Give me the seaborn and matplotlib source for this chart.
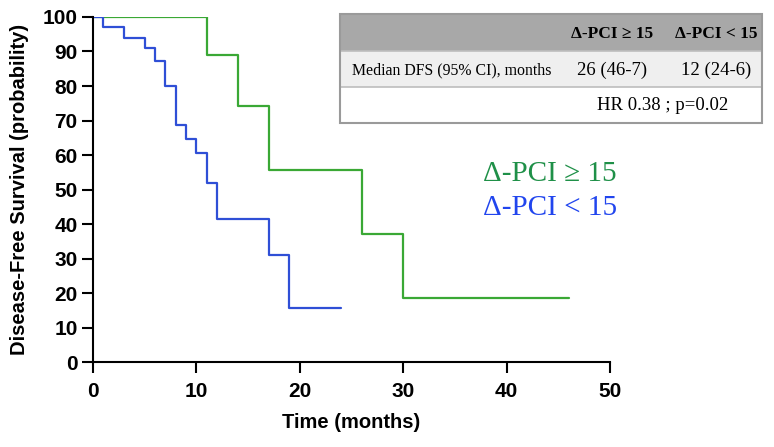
import numpy as np
import pandas as pd
import matplotlib
matplotlib.use("Agg")
import matplotlib.pyplot as plt
import seaborn as sns

# Kaplan-Meier step points (time in months, survival %)
hi_time = [0, 11, 14, 17, 26, 30, 46]
hi_surv = [100, 88.9, 74.1, 55.6, 37.0, 18.5, 18.5]
lo_time = [0, 1, 3, 5, 6, 7, 8, 9, 10, 11, 12, 17, 19, 24]
lo_surv = [100, 97.0, 94.0, 90.9, 87.2, 80.0, 68.6, 64.6, 60.5, 51.9, 41.5, 31.1, 15.6, 15.6]

groups = ["Δ-PCI ≥ 15", "Δ-PCI < 15"]
line_colors = ["#3aa835", "#2f4fd6"]
text_colors = ["#1f9048", "#2145ee"]

table_header = ["", "Δ-PCI ≥ 15", "Δ-PCI < 15"]
table_row = ["Median DFS (95% CI), months", "26 (46-7)", "12 (24-6)"]
table_footer = "HR 0.38 ; p=0.02"

df = pd.concat([
    pd.DataFrame({"time": hi_time, "surv": hi_surv, "group": groups[0]}),
    pd.DataFrame({"time": lo_time, "surv": lo_surv, "group": groups[1]}),
])

sns.set_theme(style="ticks")
plt.rcParams.update({
    "font.family": ["Liberation Sans", "DejaVu Sans"],
    "xtick.color": "black", "ytick.color": "black",
    "axes.labelcolor": "black", "text.color": "black",
})

fig = plt.figure(figsize=(7.74, 4.47), dpi=100)
ax = fig.add_axes([0.120, 0.190, 0.668, 0.772])
ax.set_axisbelow(False)

sns.lineplot(data=df, x="time", y="surv", hue="group", palette=line_colors,
             drawstyle="steps-post", linewidth=1.6, legend=False, ax=ax,
             estimator=None, sort=False)

ax.set_xlim(0, 50)
ax.set_ylim(0, 100)
ax.set_xticks(np.arange(0, 51, 10))
ax.set_yticks(np.arange(0, 101, 10))
ax.spines["top"].set_visible(False)
ax.spines["right"].set_visible(False)
for s in ["left", "bottom"]:
    ax.spines[s].set_linewidth(1.5)
    ax.spines[s].set_color("black")
ax.tick_params(axis="both", labelsize=15, pad=5)
ax.tick_params(axis="x", pad=8)
# ticks have to be switched on one by one, the theme hides them otherwise
for t in ax.xaxis.get_major_ticks() + ax.yaxis.get_major_ticks():
    t.tick1line.set_visible(True)
    t.tick1line.set_markersize(8)
    t.tick1line.set_markeredgewidth(1.5)
    t.tick1line.set_color("black")
    t.tick1line.set_markeredgecolor("black")
    t.tick1line.set_zorder(5)
for lab in ax.get_xticklabels() + ax.get_yticklabels():
    lab.set_fontweight("bold")
ax.set_xlabel("Time (months)", fontsize=14.5, fontweight="bold", labelpad=9)
ax.set_ylabel("Disease-Free Survival (probability)", fontsize=14.5, fontweight="bold", labelpad=10)

# group labels
serif = ["Liberation Serif", "DejaVu Serif"]
fig.text(483 / 774, 1 - 174 / 447, groups[0], ha="left", va="center",
         fontsize=21, color=text_colors[0], family=serif)
fig.text(483 / 774, 1 - 208 / 447, groups[1], ha="left", va="center",
         fontsize=21, color=text_colors[1], family=serif)

# summary table in the upper right
W, H = 774, 447
def fx(px):
    return px / W
def fy(py):
    return 1 - py / H

x0, x1 = 340, 762
rows_y = [14, 51, 87, 123]
fills = ["#a8a8a8", "#efefef", "#ffffff"]
for i, c in enumerate(fills):
    fig.patches.append(plt.Rectangle((fx(x0), fy(rows_y[i + 1])), fx(x1) - fx(x0),
                                     fy(rows_y[i]) - fy(rows_y[i + 1]),
                                     transform=fig.transFigure, facecolor=c,
                                     edgecolor="none", zorder=3))
for yy in rows_y[1:3]:
    fig.lines.append(plt.Line2D([fx(x0), fx(x1)], [fy(yy), fy(yy)], transform=fig.transFigure,
                                color="#bdbdbd", linewidth=1.2, zorder=4))
fig.patches.append(plt.Rectangle((fx(x0), fy(rows_y[3])), fx(x1) - fx(x0),
                                 fy(rows_y[0]) - fy(rows_y[3]), transform=fig.transFigure,
                                 facecolor="none", edgecolor="#9a9a9a", linewidth=1.5, zorder=5))

col_x = [352, 612, 716]
fig.text(fx(col_x[1]), fy(34), table_header[1], ha="center", va="center",
         fontsize=12.5, fontweight="bold", family=serif, zorder=6)
fig.text(fx(col_x[2]), fy(34), table_header[2], ha="center", va="center",
         fontsize=12.5, fontweight="bold", family=serif, zorder=6)
fig.text(fx(col_x[0]), fy(70), table_row[0], ha="left", va="center",
         fontsize=11.4, family=serif, zorder=6)
fig.text(fx(col_x[1]), fy(70), table_row[1], ha="center", va="center",
         fontsize=13.5, family=serif, zorder=6)
fig.text(fx(col_x[2]), fy(70), table_row[2], ha="center", va="center",
         fontsize=13.5, family=serif, zorder=6)
fig.text(fx(663), fy(105), table_footer, ha="center", va="center",
         fontsize=13.5, family=serif, zorder=6)

fig.savefig("out.png", dpi=100, facecolor="white")
